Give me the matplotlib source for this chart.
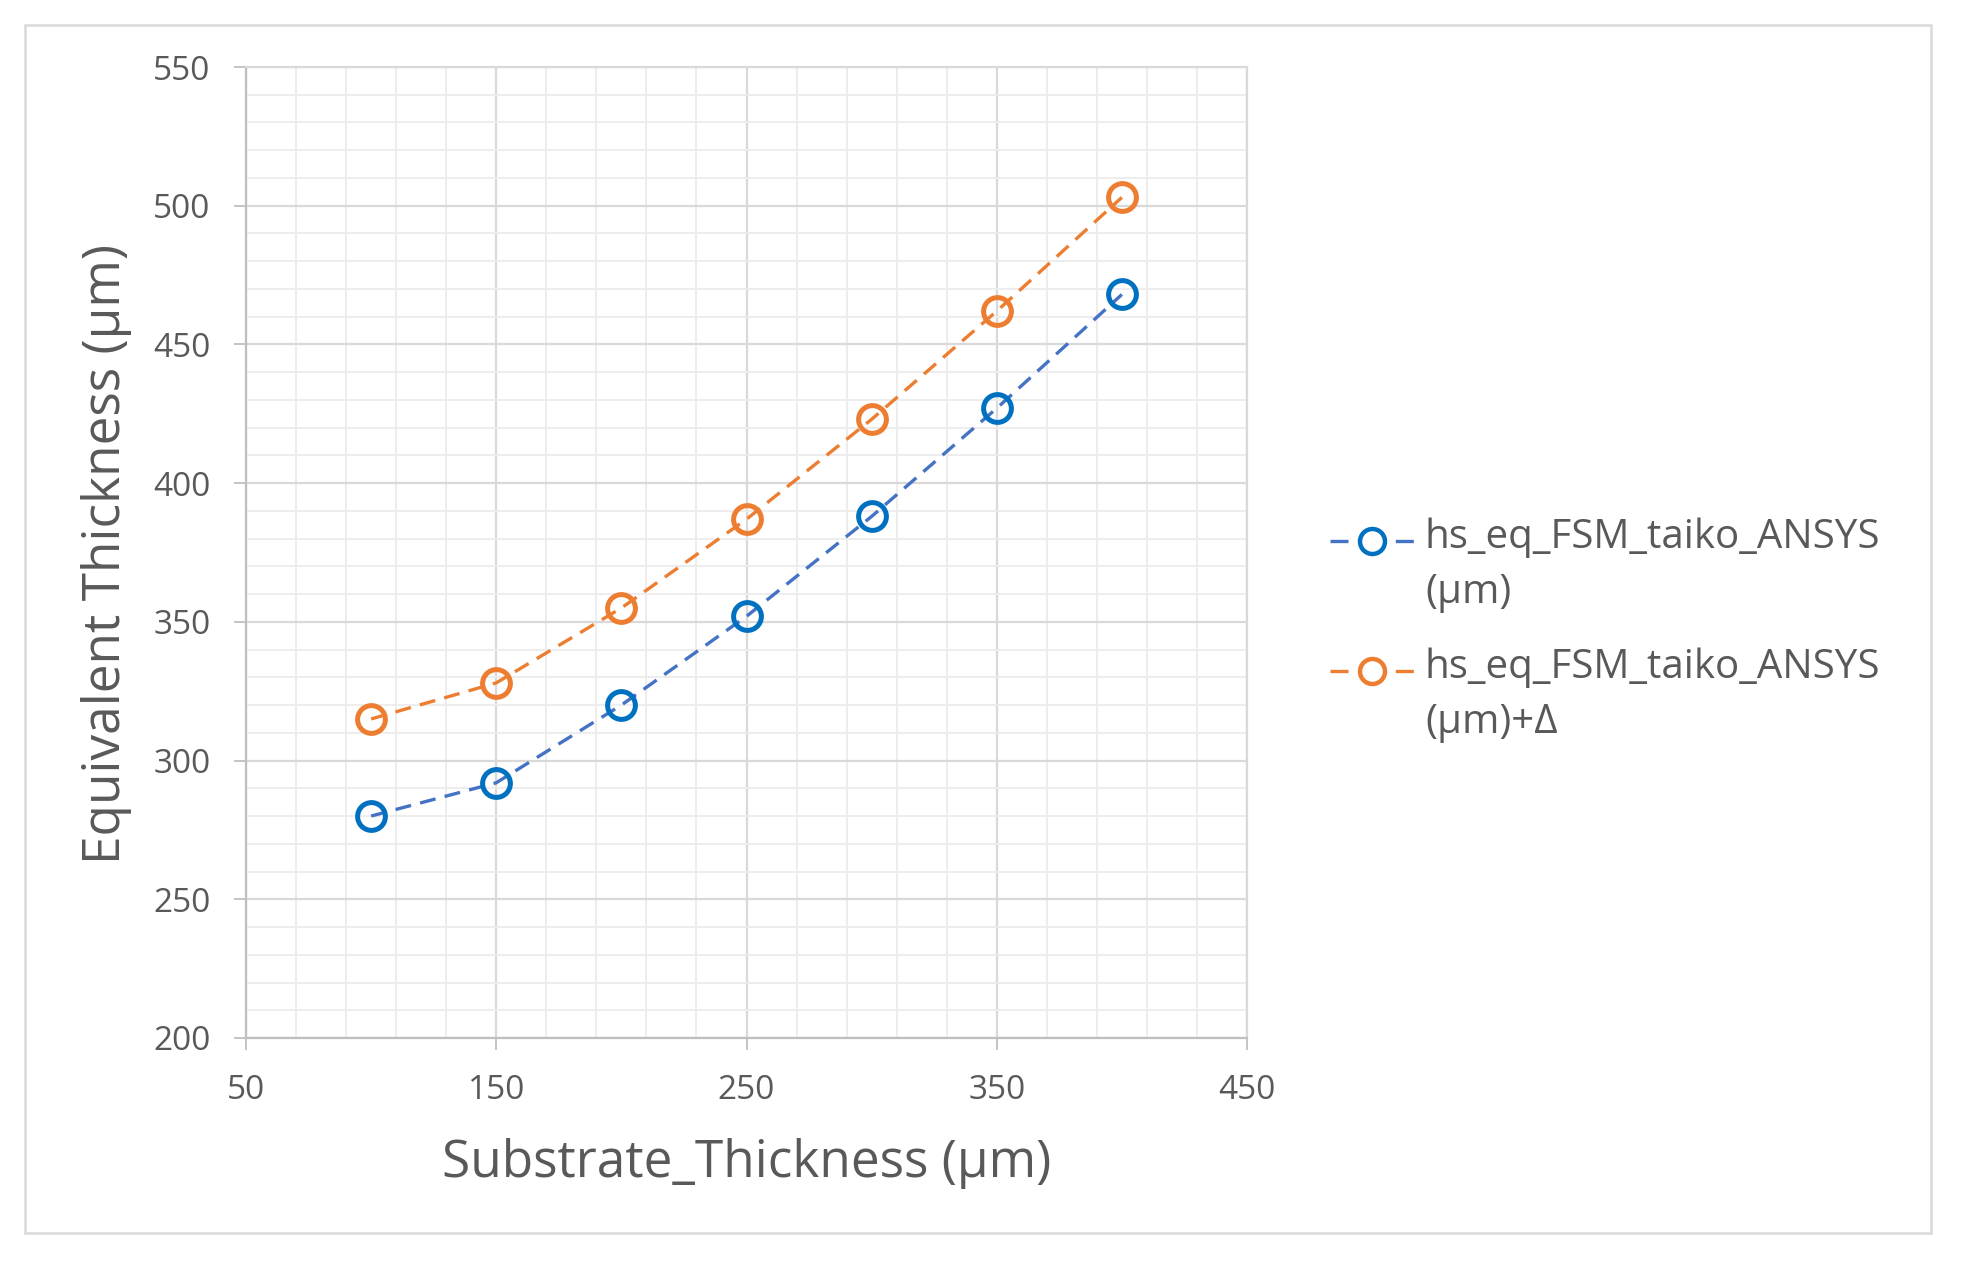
import numpy as np
import matplotlib
matplotlib.use('Agg')
import matplotlib.pyplot as plt
from matplotlib.ticker import MultipleLocator
from matplotlib.lines import Line2D
from matplotlib.patches import Rectangle

plt.rcParams['font.family'] = ['Open Sans', 'DejaVu Sans']

# 数据
substrate = [100, 150, 200, 250, 300, 350, 400]
hs_eq = [280, 292, 320, 352, 388, 427, 468]
hs_eq_delta = [315, 328, 355, 387, 423, 462, 503]
labels = ['hs_eq_FSM_taiko_ANSYS\n(µm)', 'hs_eq_FSM_taiko_ANSYS\n(µm)+Δ']

blue_mk = '#0070C0'
blue_ln = '#4472C4'
orange = '#ED7D31'
txt = '#595959'
W, H = 1971, 1271

fig = plt.figure(figsize=(W / 100, H / 100), dpi=100)
ax = fig.add_axes([246 / W, 1 - 1038 / H, (1247 - 246) / W, (1038 - 67) / H])

l1, = ax.plot(substrate, hs_eq, color=blue_ln, lw=2.4, dashes=(4.8, 2.8),
              marker='o', ms=20, mfc='none', mec=blue_mk, mew=3.6)
l2, = ax.plot(substrate, hs_eq_delta, color=orange, lw=2.4, dashes=(4.8, 2.8),
              marker='o', ms=20, mfc='none', mec=orange, mew=3.6)

ax.set_xlim(50, 450)
ax.set_ylim(200, 550)
ax.xaxis.set_major_locator(MultipleLocator(100, offset=50))
ax.xaxis.set_minor_locator(MultipleLocator(20, offset=10))
ax.yaxis.set_major_locator(MultipleLocator(50))
ax.yaxis.set_minor_locator(MultipleLocator(10))
ax.grid(which='major', color='#d9d9d9', lw=1.6)
ax.grid(which='minor', color='#ececec', lw=1.3)
ax.set_axisbelow(True)
ax.tick_params(which='major', length=8.6, width=1.3, color='#bfbfbf', labelcolor=txt,
               labelsize=24, pad=17)
ax.tick_params(which='minor', length=0)
for s in ['left', 'bottom']:
    ax.spines[s].set_color('#bfbfbf')
    ax.spines[s].set_linewidth(1.6)
for s in ['top', 'right']:
    ax.spines[s].set_color('#d9d9d9')
    ax.spines[s].set_linewidth(1.6)

fig.text(747 / W, 1 - 1177 / H, 'Substrate_Thickness (µm)', ha='center', va='baseline',
         fontsize=37, color=txt)
fig.text(107 / W, 1 - 554 / H, 'Equivalent Thickness (µm)', ha='center', va='center',
         rotation=90, fontsize=37, color=txt)

# 图例 (y = 第一行基线, 最后一行基线 +53px)
for line, lab, y in zip([l1, l2], labels, [550, 680]):
    ym = 1 - (y - 9) / H
    h = Line2D([1330 / W, 1372 / W, 1414 / W], [ym, ym, ym], transform=fig.transFigure,
               color=line.get_color(), lw=2.4, dashes=(5.4, 14.2), marker='o', markevery=[1],
               ms=18, mfc='none', mec=line.get_markeredgecolor(), mew=3.2)
    fig.add_artist(h)
    fig.text(1425 / W, 1 - (y + 53) / H, lab, ha='left', va='baseline', fontsize=29,
             color=txt, linespacing=1.48)

# 外框
fig.add_artist(Rectangle((25 / W, 1 - 1233 / H), (1931 - 25) / W, (1233 - 25) / H,
                         transform=fig.transFigure, fill=False, ec='#d9d9d9', lw=1.8))

plt.savefig('out.png', dpi=100)
